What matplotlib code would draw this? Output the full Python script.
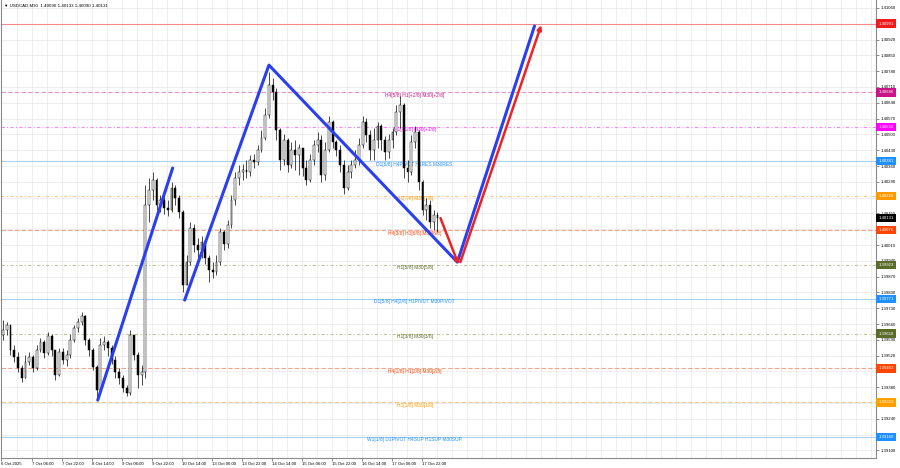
"""USDCAD M30 chart with murrey-style levels and zigzag projection."""
import numpy as np
import matplotlib.pyplot as plt

plt.rcParams['font.family'] = ['Liberation Sans', 'DejaVu Sans']

# candles, one per 2 hours
closes = [1.39633, 1.39655, 1.39544, 1.39513, 1.39465, 1.39420, 1.39491, 1.39513, 1.39465, 1.39544,
          1.39580, 1.39531, 1.39607, 1.39544, 1.39434, 1.39536, 1.39500, 1.39522, 1.39589, 1.39642,
          1.39669, 1.39695, 1.39589, 1.39544, 1.39469, 1.39367, 1.39567, 1.39580, 1.39553, 1.39500,
          1.39447, 1.39420, 1.39376, 1.39354, 1.39611, 1.39522, 1.39434, 1.39447, 1.40187, 1.40253,
          1.40298, 1.40187, 1.40209, 1.40174, 1.40165, 1.40262, 1.40218, 1.40156, 1.39832, 1.39934,
          1.40085, 1.40010, 1.39987, 1.40023, 1.39952, 1.39899, 1.39890, 1.39934, 1.40067, 1.40014,
          1.40098, 1.40209, 1.40306, 1.40333, 1.40342, 1.40333, 1.40386, 1.40377, 1.40430, 1.40484,
          1.40586, 1.40718, 1.40687, 1.40519, 1.40386, 1.40475, 1.40364, 1.40430, 1.40408, 1.40439,
          1.40351, 1.40298, 1.40386, 1.40453, 1.40475, 1.40320, 1.40430, 1.40555, 1.40466, 1.40430,
          1.40364, 1.40262, 1.40333, 1.40364, 1.40386, 1.40453, 1.40555, 1.40497, 1.40430, 1.40475,
          1.40537, 1.40475, 1.40422, 1.40475, 1.40510, 1.40599, 1.40630, 1.40351, 1.40333, 1.40466,
          1.40510, 1.40289, 1.40165, 1.40187, 1.40112, 1.40143, 1.40131]
highs = [1.39677, 1.39669, 1.39655, 1.39567, 1.39536, 1.39478, 1.39522, 1.39536, 1.39522, 1.39567,
         1.39598, 1.39589, 1.39624, 1.39615, 1.39544, 1.39553, 1.39553, 1.39544, 1.39615, 1.39655,
         1.39686, 1.39713, 1.39700, 1.39598, 1.39553, 1.39478, 1.39598, 1.39607, 1.39589, 1.39567,
         1.39518, 1.39465, 1.39434, 1.39389, 1.39633, 1.39611, 1.39536, 1.39478, 1.40275, 1.40306,
         1.40333, 1.40306, 1.40231, 1.40227, 1.40209, 1.40289, 1.40275, 1.40231, 1.40165, 1.39965,
         1.40112, 1.40103, 1.40041, 1.40050, 1.40032, 1.39965, 1.39934, 1.39965, 1.40085, 1.40076,
         1.40120, 1.40231, 1.40333, 1.40364, 1.40368, 1.40386, 1.40408, 1.40413, 1.40453, 1.40519,
         1.40617, 1.40776, 1.40749, 1.40705, 1.40528, 1.40501, 1.40484, 1.40466, 1.40475, 1.40457,
         1.40439, 1.40386, 1.40413, 1.40475, 1.40510, 1.40497, 1.40466, 1.40581, 1.40563, 1.40475,
         1.40453, 1.40386, 1.40364, 1.40386, 1.40430, 1.40484, 1.40581, 1.40572, 1.40519, 1.40528,
         1.40555, 1.40546, 1.40493, 1.40501, 1.40528, 1.40630, 1.40670, 1.40640, 1.40386, 1.40497,
         1.40537, 1.40519, 1.40298, 1.40218, 1.40209, 1.40165, 1.40156]
lows = [1.39589, 1.39611, 1.39522, 1.39491, 1.39447, 1.39403, 1.39420, 1.39478, 1.39447, 1.39456,
        1.39536, 1.39509, 1.39522, 1.39518, 1.39412, 1.39429, 1.39482, 1.39474, 1.39509, 1.39580,
        1.39624, 1.39655, 1.39567, 1.39518, 1.39456, 1.39332, 1.39367, 1.39544, 1.39518, 1.39482,
        1.39420, 1.39394, 1.39358, 1.39341, 1.39345, 1.39500, 1.39376, 1.39389, 1.39420, 1.40112,
        1.40209, 1.40165, 1.40156, 1.40147, 1.40138, 1.40156, 1.40187, 1.40129, 1.39801, 1.39832,
        1.39921, 1.39979, 1.39934, 1.39952, 1.39925, 1.39846, 1.39863, 1.39877, 1.39921, 1.39987,
        1.39996, 1.40085, 1.40187, 1.40275, 1.40298, 1.40306, 1.40315, 1.40351, 1.40364, 1.40422,
        1.40475, 1.40572, 1.40652, 1.40475, 1.40342, 1.40364, 1.40333, 1.40351, 1.40342, 1.40320,
        1.40315, 1.40275, 1.40289, 1.40364, 1.40422, 1.40289, 1.40298, 1.40422, 1.40439, 1.40404,
        1.40333, 1.40236, 1.40253, 1.40306, 1.40351, 1.40364, 1.40439, 1.40466, 1.40386, 1.40386,
        1.40439, 1.40430, 1.40386, 1.40395, 1.40439, 1.40497, 1.40528, 1.40306, 1.40289, 1.40320,
        1.40439, 1.40253, 1.40143, 1.40120, 1.40085, 1.40076, 1.40067]
first_open = 1.39610
bid = 1.40131

time_labels = ["7 Oct 06:00", "7 Oct 22:00", "8 Oct 14:00", "9 Oct 06:00", "9 Oct 22:00",
               "10 Oct 14:00", "13 Oct 06:00", "13 Oct 22:00", "14 Oct 14:00", "15 Oct 06:00",
               "15 Oct 22:00", "16 Oct 14:00", "17 Oct 06:00", "17 Oct 22:00"]

levels = [1.40991, 1.40686, 1.40533, 1.40381, 1.40228, 1.40076,
          1.39923, 1.39771, 1.39618, 1.39463, 1.39313, 1.39160]
level_names = ["", "H4[5/8] H1[+2/8] M30[+2/8]", "H1[+1/8] M30[+1/8]",
               "D1[6/8] H4PIVOT H1RES M30RES", "H1[7/8] M30[7/8]", "H4[3/8] H1[6/8] M30[6/8]",
               "H1[5/8] M30[5/8]", "D1[5/8] H4[2/8] H1PIVOT M30PIVOT", "H1[3/8] M30[3/8]",
               "H4[1/8] H1[2/8] M30[2/8]", "H1[1/8] M30[1/8]", "W1[1/8] D1PIVOT H4SUP H1SUP M30SUP"]

# zigzag waves (bar index, price)
wave1_t = [25.3, 45.3]
wave1_p = [1.39323, 1.40351]
wave2_t = [48.5, 71.0, 121.3, 141.9]
wave2_p = [1.39766, 1.40807, 1.39934, 1.40980]
proj_t = [116.8, 121.6, 122.1, 143.7]
proj_p = [1.40129, 1.39925, 1.39934, 1.40984]

# line style per level: (line colour, box colour, linestyle)
DASH, DDOT = (0, (4, 2)), (0, (3, 2, 1, 2))
styles = [('#f28a8a', '#ee1c1c', '-'),
          ('#ec8fcf', '#c71585', DASH),
          ('#f48af4', '#ff00ff', DDOT),
          ('#a9d2f5', '#1e90ff', '-'),
          ('#f7c98f', '#ff9900', DDOT),
          ('#f6a489', '#ff4500', DASH),
          ('#c3c49a', '#5b6b2a', DDOT),
          ('#a9d2f5', '#1e90ff', '-'),
          ('#c3c49a', '#5b6b2a', DDOT),
          ('#f6a489', '#ff4500', DASH),
          ('#f7c98f', '#ffa000', DASH),
          ('#a9d2f5', '#1e90ff', '-')]

fig = plt.figure(figsize=(9, 4.68), dpi=100)
ax = fig.add_axes([1 / 900, 10 / 468, 875 / 900, 458 / 468])

closes = np.array(closes)
highs = np.array(highs)
lows = np.array(lows)
opens = np.r_[first_open, closes[:-1]]
x = np.arange(len(closes))
up = closes >= opens

# levels and their names
for lvl, name, (lc, bc, ls) in zip(levels, level_names, styles):
    ax.axhline(lvl, color=lc, lw=0.8, ls=ls, zorder=1)
    if name:
        ax.text(109.9, lvl - 0.00002, name, color=bc, fontsize=3.5,
                ha='center', va='top', zorder=2)
    ax.text(1.0 + 2.5 / 875, lvl, f"{lvl:.5f}", transform=ax.get_yaxis_transform(),
            fontsize=3.1, color='white', ha='left', va='center', zorder=10, clip_on=False,
            bbox=dict(boxstyle='square,pad=0.5', fc=bc, ec='none'))
ax.text(1.0 + 2.5 / 875, bid, f"{bid:.5f}", transform=ax.get_yaxis_transform(),
        fontsize=3.1, color='white', ha='left', va='center', zorder=10, clip_on=False,
        bbox=dict(boxstyle='square,pad=0.5', fc='black', ec='none'))

# candles
ax.vlines(x, lows, highs, color='black', lw=0.5, zorder=3)
ax.bar(x[up], closes[up] - opens[up], bottom=opens[up], width=0.5,
       color='white', edgecolor='black', lw=0.35, zorder=4)
ax.bar(x[~up], opens[~up] - closes[~up], bottom=closes[~up], width=0.5,
       color='black', edgecolor='black', lw=0.35, zorder=4)

# zigzag and projection
ax.plot(wave1_t, wave1_p, color='#2a3ff0', lw=2.2, zorder=5, solid_capstyle='round')
ax.plot(wave2_t, wave2_p, color='#2a3ff0', lw=2.2, zorder=5, solid_capstyle='round')
for k in (0, 2):
    ax.annotate("", xy=(proj_t[k + 1], proj_p[k + 1]), xytext=(proj_t[k], proj_p[k]),
                arrowprops=dict(arrowstyle='-|>', color='#ee2222', lw=1.8,
                                mutation_scale=6, shrinkA=0, shrinkB=0), zorder=6)

ax.set_xlim(-0.53, 233.07)
ax.set_ylim(1.390665, 1.410954)

# price scale; labels hidden where a level box sits on them
yt = np.round(np.arange(1.39100, 1.41061, 0.0007), 5)
boxed = np.array(levels + [bid])
ylabels = ["" if np.min(np.abs(boxed - v)) < 0.00009 else f"{v:.5f}" for v in yt]
ax.yaxis.tick_right()
ax.set_yticks(yt)
ax.set_yticklabels(ylabels)
ax.tick_params(axis='y', length=2, width=0.5, pad=1.5, labelsize=3.1, color='#606060')

xt = [-0.53] + [7.75 + 8 * k for k in range(len(time_labels))]
ax.set_xticks(xt)
ax.set_xticklabels(["6 Oct 2025"] + time_labels, ha='left')
ax.set_xticks(np.arange(3.75, 233, 4), minor=True)
ax.tick_params(axis='x', length=2, width=0.5, pad=1, labelsize=3.1, color='#606060')
ax.tick_params(axis='x', which='minor', length=0)

ax.grid(True, which='both', color='#e8e8e8', lw=0.5, zorder=0)
ax.set_axisbelow(True)
ax.spines['top'].set_visible(False)
for s in ('left', 'bottom', 'right'):
    ax.spines[s].set_color('#8a8a8a')
    ax.spines[s].set_linewidth(0.8)

ax.text(0.004, 0.993, "\u25bc USDCAD,M30  1.40096 1.40133 1.40090 1.40131",
        transform=ax.transAxes, fontsize=3.2, ha='left', va='top', zorder=10)

fig.savefig("out.png", dpi=100)
